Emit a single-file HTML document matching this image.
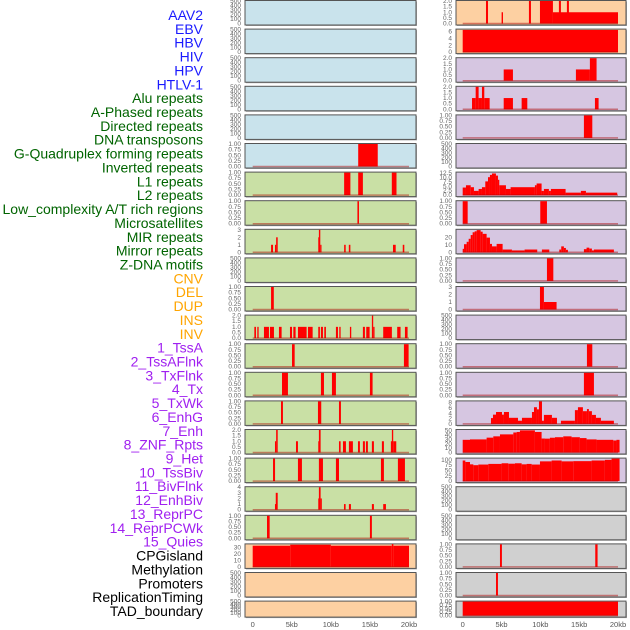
<!DOCTYPE html>
<html><head><meta charset="utf-8"><style>
body{margin:0;background:#fff;width:630px;height:630px;overflow:hidden}
svg{display:block}
text{font-family:"Liberation Sans",sans-serif}
</style></head><body>
<svg id="chart" width="630" height="630" viewBox="0 0 630 630"></svg>
<script>
const labels=["AAV2","EBV","HBV","HIV","HPV","HTLV-1","Alu repeats","A-Phased repeats","Directed repeats","DNA transposons","G-Quadruplex forming repeats","Inverted repeats","L1 repeats","L2 repeats","Low_complexity A/T rich regions","Microsatellites","MIR repeats","Mirror repeats","Z-DNA motifs","CNV","DEL","DUP","INS","INV","1_TssA","2_TssAFlnk","3_TxFlnk","4_Tx","5_TxWk","6_EnhG","7_Enh","8_ZNF_Rpts","9_Het","10_TssBiv","11_BivFlnk","12_EnhBiv","13_ReprPC","14_ReprPCWk","15_Quies","CPGisland","Methylation","Promoters","ReplicationTiming","TAD_boundary"];
const groups=["virus","virus","virus","virus","virus","virus","repeat","repeat","repeat","repeat","repeat","repeat","repeat","repeat","repeat","repeat","repeat","repeat","repeat","sv","sv","sv","sv","sv","state","state","state","state","state","state","state","state","state","state","state","state","state","state","state","other","other","other","other","other"];
const xTicks=[0,5,10,15,20];
const xTickLabels=["0","5kb","10kb","15kb","20kb"];
// segments: [startKb, endKb, value]
const segHTLV=[[13.5,16.0,1]];
const segAlu=[[11.7,12.5,1],[13.5,14.1,1],[17.8,18.4,1]];
const segAPhased=[[13.4,13.6,1]];
const segDirected=[[2.35,2.6,1],[2.85,3.0,1],[3.0,3.2,2],[8.39,8.47,2],[8.47,8.65,3],[8.65,8.8,1],[11.7,11.9,1],[12.3,12.5,1],[17.95,18.3,1],[19.2,19.4,1]];
const segGQuad=[[2.35,2.7,1]];
const segInverted=[[0.21,0.42,1],[0.59,0.76,1],[1.44,2.08,1],[2.21,2.72,1],[3.36,3.7,1],[4.77,5.03,1],[5.2,5.49,1],[5.79,6.9,1],[7.07,7.67,1],[8.39,8.6,1],[8.73,8.99,1],[9.16,9.37,1],[10.65,10.91,1],[11.08,11.25,1],[12.44,12.61,1],[14.1,14.36,1],[14.53,14.96,1],[15.25,15.42,2],[15.42,15.59,1],[16.7,17.81,1],[18.49,18.92,1],[19.48,19.82,1]];
const segL1=[[5.03,5.37,1],[19.35,19.95,1]];
const segL2=[[3.75,4.51,1],[8.73,9.12,1],[10.14,10.65,1],[15.0,15.34,1]];
const segLowComp=[[3.62,3.87,1],[8.35,8.77,1],[11.04,11.29,1]];
const segMicro=[[2.85,3.0,1],[3.0,3.2,2],[5.54,5.79,1],[8.39,8.47,1],[8.47,8.69,2],[11.04,11.25,1],[11.55,11.93,1],[12.31,12.82,1],[13.47,13.72,1],[14.1,14.36,1],[14.49,14.74,1],[15.25,15.51,1],[16.53,16.79,1],[17.68,17.81,1],[17.81,17.98,2],[17.98,18.37,1]];
const segMIR=[[2.6,2.86,1],[5.79,6.3,1],[8.47,8.99,1],[10.65,11.04,1],[16.41,16.79,1],[18.58,19.48,1]];
const segMirror=[[2.85,2.95,1],[2.95,3.2,3],[8.39,8.47,2],[8.47,8.69,4],[8.69,8.77,2],[11.68,11.89,1],[12.31,12.57,1],[15.25,15.51,1],[16.7,17.05,1]];
const segZDNA=[[1.83,2.17,1],[15.0,15.25,1]];
const segCNV=[[0,4.8,32.5],[4.8,10.0,34],[10.0,17.8,32.5],[17.8,18.0,35],[18.0,20,32.5]];
const segINS=[[3.0,3.26,2],[5.01,5.19,1],[8.53,8.79,2],[9.95,11.62,2],[11.62,20,1],[12.39,12.65,2],[13.42,13.68,2]];
const segINV=[[0,20,6.5]];
const segTssA=[[5.28,6.47,1],[14.58,16.38,1],[16.38,17.24,2]];
const segTssAFlnk=[[1.2,1.67,1],[1.67,2.05,2],[2.05,2.48,1],[2.48,2.78,2],[2.78,3.47,1],[5.28,6.47,1],[7.59,8.32,1],[17.03,17.5,1]];
const segTxFlnk=[[15.61,16.69,1]];
const segTxWk=[[0,0.42,4.3],[0.42,1.03,5.6],[1.03,1.45,4.5],[1.45,2.05,2.4],[2.05,2.48,3.5],[2.48,2.91,4.5],[2.91,3.26,7.8],[3.26,3.51,10.2],[3.51,3.77,11.5],[3.77,4.28,12.3],[4.28,4.54,11.1],[4.54,4.71,8.7],[4.71,5.57,5.6],[5.57,6.17,3.5],[6.17,9.3,4.5],[9.3,9.52,5.6],[9.52,10.16,6.6],[10.16,10.46,2.4],[10.46,11.1,3.5],[11.1,11.36,2.4],[11.36,13.25,3.5],[13.25,15.22,1.4],[15.22,15.87,2.4],[15.87,19.9,1.4]];
const segEnhG=[[0,0.64,1],[9.99,10.85,1]];
const segEnh=[[0,0.17,4.6],[0.17,0.51,10.8],[0.51,0.77,14],[0.77,1.03,18],[1.03,1.28,23],[1.28,1.54,26.7],[1.54,1.8,28],[1.8,2.31,29.6],[2.31,2.57,27.5],[2.57,3.08,24.6],[3.08,3.51,19.6],[3.51,3.77,11.2],[3.77,4.37,7.9],[4.37,5.14,11.2],[5.14,6.34,3.7],[6.34,7.97,2.5],[7.97,9.6,3.7],[10.2,11.15,3.7],[12.44,12.69,3.7],[12.69,13.03,7.9],[13.03,13.29,5.8],[13.29,13.55,3.3],[15.61,15.95,4.2],[15.95,16.3,6.2],[16.3,16.64,5],[16.64,16.9,2.5],[16.9,19.47,3.7]];
const segZNF=[[10.85,11.67,1]];
const segHet=[[9.95,10.46,3],[10.46,12.09,1]];
const segBivFlnk=[[16.0,16.69,1]];
const segEnhBiv=[[15.61,16.9,1]];
const segReprPC=[[3.64,3.9,2.2],[3.9,4.29,3.5],[4.29,5.06,4.5],[5.06,5.31,3.5],[5.31,5.96,4.5],[5.96,7.12,2.3],[7.12,7.63,1.2],[7.63,8.92,2.3],[8.92,9.18,4.5],[9.18,9.56,6.3],[9.56,9.82,5.5],[9.82,10.21,8.5],[10.21,10.46,1.2],[10.46,11.49,3.4],[11.49,12.14,2.3],[12.65,14.45,1.2],[14.45,14.84,5.2],[14.84,15.48,6.3],[15.48,16.0,4.8],[16.0,16.25,5.6],[16.25,16.64,4.8],[16.64,17.16,3.4],[17.16,17.8,2.3],[17.8,19.47,1.2]];
const segReprPCWk=[[0,0.94,29],[0.94,3.08,30],[3.08,3.94,34],[3.94,4.8,37],[4.8,6.52,41.5],[6.52,6.95,45.8],[6.95,7.37,47],[7.37,9.3,50.7],[9.3,10.16,47],[10.16,10.59,32],[10.59,11.23,31.7],[11.23,11.88,33.8],[11.88,12.95,35],[12.95,14.02,37],[14.02,15.09,35],[15.09,15.95,33],[15.95,17.24,30],[17.24,19.39,29],[19.39,19.8,27.5],[19.8,20.2,29]];
const segQuies=[[0,0.34,97],[0.34,0.94,90],[0.94,1.37,79],[1.37,2.01,75],[2.01,3.3,78],[3.3,5.01,81],[5.01,5.87,84],[5.87,6.73,82],[6.73,7.59,84],[7.59,8.23,79],[8.23,8.88,81],[8.88,9.95,78],[9.95,11.45,93],[11.45,12.74,97],[12.74,14.24,93],[14.24,16.6,94],[16.6,18.31,97],[18.31,19.17,100],[19.17,20.2,106]];
const segPromoters=[[4.8,5.05,1],[17.07,17.37,1]];
const segRepTiming=[[4.29,4.54,1]];
const segTAD=[[0,20,1]];
// y-axis ticks
const tEmpty=[0,100,200,300,400,500], lEmpty=["0","100","200","300","400","500"];
const tUnit=[0,0.25,0.5,0.75,1], lUnit=["0.00","0.25","0.50","0.75","1.00"];
const tTwo=[0,0.5,1,1.5,2], lTwo=["0.0","0.5","1.0","1.5","2.0"];
const tThree=[0,1,2,3], lThree=["0","1","2","3"];
const tFour=[0,1,2,3,4], lFour=["0","1","2","3","4"];
const tCNV=[0,10,20,30], lCNV=["0","10","20","30"];
const tINV=[0,2,4,6], lINV=["0","2","4","6"];
const tTxWk=[0,2.5,5,7.5,10,12.5], lTxWk=["0.0","2.5","5.0","7.5","10.0","12.5"];
const tEnh=[0,10,20], lEnh=["0","10","20"];
const tRepr=[0,2,4,6,8], lRepr=["0","2","4","6","8"];
const tWk=[0,10,20,30,40,50], lWk=["0","10","20","30","40","50"];
const tQuies=[0,25,50,75,100], lQuies=["0","25","50","75","100"];
// per-track: segs, ymax, ticks, tick labels
const trackSegs=[null,null,null,null,null,segHTLV,segAlu,segAPhased,segDirected,null,segGQuad,segInverted,segL1,segL2,segLowComp,segMicro,segMIR,segMirror,segZDNA,segCNV,null,null,
 segINS,segINV,segTssA,segTssAFlnk,segTxFlnk,null,segTxWk,segEnhG,segEnh,segZNF,segHet,null,segBivFlnk,segEnhBiv,segReprPC,segReprPCWk,segQuies,null,null,segPromoters,segRepTiming,segTAD];
const trackMax=[500,500,500,500,500,1,1,1,3,500,1,2,1,1,1,2,1,4,1,34.5,500,500,
 2,6.6,2,2,1,500,12.8,1,30,1,3,500,1,1,8.5,51.5,106,500,500,1,1,1];
const trackTicks=[tEmpty,tEmpty,tEmpty,tEmpty,tEmpty,tUnit,tUnit,tUnit,tThree,tEmpty,tUnit,tTwo,tUnit,tUnit,tUnit,tTwo,tUnit,tFour,tUnit,tCNV,tEmpty,tEmpty,
 tTwo,tINV,tTwo,tTwo,tUnit,tEmpty,tTxWk,tUnit,tEnh,tUnit,tThree,tEmpty,tUnit,tUnit,tRepr,tWk,tQuies,tEmpty,tEmpty,tUnit,tUnit,tUnit];
const trackTickLabels=[lEmpty,lEmpty,lEmpty,lEmpty,lEmpty,lUnit,lUnit,lUnit,lThree,lEmpty,lUnit,lTwo,lUnit,lUnit,lUnit,lTwo,lUnit,lFour,lUnit,lCNV,lEmpty,lEmpty,
 lTwo,lINV,lTwo,lTwo,lUnit,lEmpty,lTxWk,lUnit,lEnh,lUnit,lThree,lEmpty,lUnit,lUnit,lRepr,lWk,lQuies,lEmpty,lEmpty,lUnit,lUnit,lUnit];

const NS="http://www.w3.org/2000/svg";
const svg=document.getElementById('chart');
const fills={virus:"#c9e3ec",repeat:"#c9e0a5",sv:"#fdd0a2",state:"#d6c6e1",other:"#d0d0d0"};
const labelColors={virus:"#1a1aff",repeat:"#006400",sv:"#ffa500",state:"#a020f0",other:"#000000"};
function el(tag,attrs,parent){const e=document.createElementNS(NS,tag);for(const k in attrs)e.setAttribute(k,attrs[k]);(parent||svg).appendChild(e);return e;}
const cols=[{left:245,right:416,x0:252.7,x20:409},{left:456,right:626,x0:462.7,x20:618}];
function xScale(c,kb){return c.x0+(c.x20-c.x0)*kb/20;}

// labels
labels.forEach((lab,i)=>{
  const t=el('text',{x:203,y:15+i*13.86+5,'text-anchor':'end','font-size':'14',fill:labelColors[groups[i]]});
  
  
  t.textContent=lab;
});

for(let i=0;i<44;i++){
  const c=cols[i<22?0:1];
  const row=i%22;
  const T=row*28.6+0.5;
  const H=row===21?16:24.5;
  const g=el('g',{});
  
  
  el('rect',{x:c.left+1,y:T+1,width:c.right-c.left,height:H,fill:'#aaa'},g);
  el('rect',{x:c.left,y:T,width:c.right-c.left,height:H,fill:fills[groups[i]],stroke:'#555','stroke-width':1},g);
  const ymax=trackMax[i];
  const yS=v=>T+H-1.5-(v/ymax)*(H-2);
  const segs=trackSegs[i];
  if(segs){
    segs.forEach(s=>{
      const x1=xScale(c,s[0]),x2=xScale(c,s[1]);
      const r=el('rect',{x:x1,y:yS(s[2]),width:Math.max(1.2,x2-x1),height:yS(0)-yS(s[2]),fill:'#ff0000'},g);
      
      
    });
    const bl=el('line',{x1:xScale(c,0),x2:xScale(c,20),y1:yS(0),y2:yS(0),stroke:'rgba(170,0,0,0.45)','stroke-width':1.5},g);
    
    
  }
  const ticks=trackTicks[i], tl=trackTickLabels[i];
  ticks.forEach((tv,k)=>{
    const t=el('text',{x:c.left-4,y:yS(tv)+2,'text-anchor':'end','font-size':'6.5',fill:'#666'},g);
    
    
    t.textContent=tl[k];
  });
}
cols.forEach((c,ci)=>{
  xTicks.forEach((kb,k)=>{
    const t=el('text',{x:xScale(c,kb),y:627,'text-anchor':'middle','font-size':'7.5',fill:'#555'});
    
    
    t.textContent=xTickLabels[k];
  });
});
</script>
</body></html>
